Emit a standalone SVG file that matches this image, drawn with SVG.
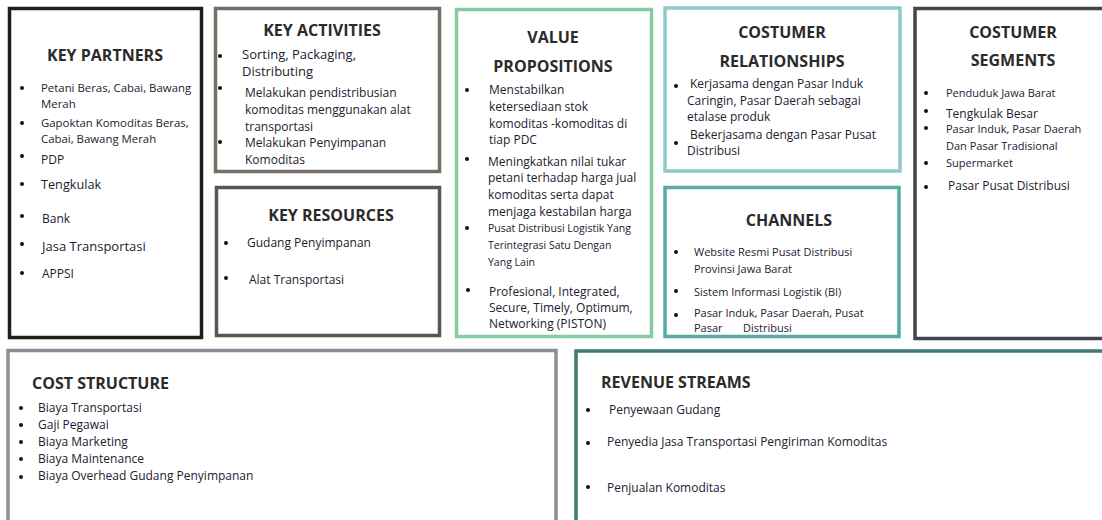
<svg xmlns="http://www.w3.org/2000/svg" width="1102" height="520" viewBox="0 0 1102 520">
<style>
.box{fill:#fff;stroke-width:3.5}
.h{font-family:"Open Sans","Liberation Sans",sans-serif;font-weight:700;font-size:16px;fill:#2b2b2b}
.t{font-family:"Open Sans","Liberation Sans",sans-serif;font-size:12px;fill:#1c2130}
.m{font-size:11px}
.k{font-size:11.4px}
.s{font-size:10.5px}
.l{font-size:13px}
.b{fill:#111}
</style>
<rect width="1102" height="520" fill="#fff"/>
<g id="key-partners">
<rect class="box" x="9.5" y="8.5" width="192" height="329" stroke="#1f1f1f"/>
<text class="h" x="105" y="61" text-anchor="middle">KEY PARTNERS</text>
<g class="b"><circle cx="22" cy="88" r="2"/><circle cx="22" cy="123" r="2"/><circle cx="22" cy="156" r="2"/><circle cx="22" cy="184" r="2"/><circle cx="22" cy="216" r="2"/><circle cx="22" cy="244" r="2"/><circle cx="22" cy="273" r="2"/></g>
<text class="t k" x="41" y="92">Petani Beras, Cabai, Bawang</text>
<text class="t k" x="41" y="108">Merah</text>
<text class="t k" x="41" y="127">Gapoktan Komoditas Beras,</text>
<text class="t k" x="41" y="143">Cabai, Bawang Merah</text>
<text class="t" x="41" y="164">PDP</text>
<text class="t" x="41" y="189" style="font-size:12.7px">Tengkulak</text>
<text class="t" x="42" y="223">Bank</text>
<text class="t l" x="42" y="251">Jasa Transportasi</text>
<text class="t" x="42" y="278">APPSI</text>
</g>
<g id="key-activities">
<rect class="box" x="215.5" y="8.5" width="224" height="163" stroke="#766d65"/>
<text class="h" x="322" y="36" text-anchor="middle">KEY ACTIVITIES</text>
<g class="b"><circle cx="220" cy="56" r="2"/><circle cx="220" cy="88" r="2"/><circle cx="220" cy="142" r="2"/></g>
<text class="t l" x="242" y="59">Sorting, Packaging,</text>
<text class="t l" x="242" y="76">Distributing</text>
<text class="t" x="245" y="97">Melakukan pendistribusian</text>
<text class="t" x="245" y="114">komoditas menggunakan alat</text>
<text class="t" x="245" y="131">transportasi</text>
<text class="t" x="245" y="147">Melakukan Penyimpanan</text>
<text class="t" x="245" y="164">Komoditas</text>
</g>
<g id="key-resources">
<rect class="box" x="216.5" y="187.5" width="223" height="148" stroke="#5c544e"/>
<text class="h" x="331" y="221" text-anchor="middle">KEY RESOURCES</text>
<g class="b"><circle cx="226" cy="243" r="2"/><circle cx="226" cy="278" r="2"/></g>
<text class="t" x="247" y="247">Gudang Penyimpanan</text>
<text class="t" x="249" y="284">Alat Transportasi</text>
</g>
<g id="value-propositions">
<rect class="box" x="456.5" y="9.5" width="195" height="327" stroke="#86cba3"/>
<text class="h" x="553" y="43" text-anchor="middle">VALUE</text>
<text class="h" x="553" y="72" text-anchor="middle">PROPOSITIONS</text>
<g class="b"><circle cx="467" cy="90" r="2"/><circle cx="467" cy="159" r="2"/><circle cx="467" cy="228" r="2"/><circle cx="468" cy="290" r="2"/></g>
<text class="t" x="489" y="94">Menstabilkan</text>
<text class="t" x="489" y="111">ketersediaan stok</text>
<text class="t" x="489" y="128">komoditas -komoditas di</text>
<text class="t" x="489" y="144">tiap PDC</text>
<text class="t" x="488" y="166">Meningkatkan nilai tukar</text>
<text class="t" x="488" y="182">petani terhadap harga jual</text>
<text class="t" x="488" y="199">komoditas serta dapat</text>
<text class="t" x="488" y="216">menjaga kestabilan harga</text>
<text class="t s" x="488" y="232">Pusat Distribusi Logistik Yang</text>
<text class="t s" x="488" y="249">Terintegrasi Satu Dengan</text>
<text class="t s" x="488" y="266">Yang Lain</text>
<text class="t" x="489" y="296">Profesional, Integrated,</text>
<text class="t" x="489" y="312">Secure, Timely, Optimum,</text>
<text class="t" x="489" y="328">Networking (PISTON)</text>
</g>
<g id="customer-relationships">
<rect class="box" x="665" y="8" width="235" height="163" stroke="#8ccbc6"/>
<text class="h" x="782" y="38" text-anchor="middle">COSTUMER</text>
<text class="h" x="782" y="67" text-anchor="middle">RELATIONSHIPS</text>
<g class="b"><circle cx="676" cy="86" r="2"/><circle cx="676" cy="143" r="2"/></g>
<text class="t" x="690" y="88">Kerjasama dengan Pasar Induk</text>
<text class="t" x="687" y="105">Caringin, Pasar Daerah sebagai</text>
<text class="t" x="687" y="121">etalase produk</text>
<text class="t" x="690" y="139">Bekerjasama dengan Pasar Pusat</text>
<text class="t" x="687" y="155">Distribusi</text>
</g>
<g id="channels">
<rect class="box" x="665" y="187.5" width="234" height="149" stroke="#57aaa5"/>
<text class="h" x="789" y="226" text-anchor="middle">CHANNELS</text>
<g class="b"><circle cx="676" cy="252" r="2"/><circle cx="676" cy="291" r="2"/><circle cx="676" cy="315" r="2"/></g>
<text class="t m" x="694" y="256">Website Resmi Pusat Distribusi</text>
<text class="t m" x="694" y="273">Provinsi Jawa Barat</text>
<text class="t m" x="694" y="296">Sistem Informasi Logistik (BI)</text>
<text class="t m" x="694" y="317">Pasar Induk, Pasar Daerah, Pusat</text>
<text class="t m" x="694" y="332">Pasar</text>
<text class="t m" x="743" y="332">Distribusi</text>
</g>
<g id="customer-segments">
<rect class="box" x="915" y="8.5" width="200" height="330" stroke="#43464e"/>
<text class="h" x="1013" y="38" text-anchor="middle">COSTUMER</text>
<text class="h" x="1013" y="66" text-anchor="middle">SEGMENTS</text>
<g class="b"><circle cx="926" cy="93" r="2"/><circle cx="926" cy="111" r="2"/><circle cx="926" cy="128" r="2"/><circle cx="926" cy="163" r="2"/><circle cx="926" cy="187" r="2"/></g>
<text class="t m" x="946" y="97">Penduduk Jawa Barat</text>
<text class="t" x="946" y="118">Tengkulak Besar</text>
<text class="t m" x="946" y="133">Pasar Induk, Pasar Daerah</text>
<text class="t m" x="946" y="150">Dan Pasar Tradisional</text>
<text class="t m" x="946" y="167">Supermarket</text>
<text class="t" x="948" y="190">Pasar Pusat Distribusi</text>
</g>
<g id="cost-structure">
<rect class="box" x="8" y="350.5" width="548" height="180" stroke="#8b8e98"/>
<text class="h" x="32" y="389">COST STRUCTURE</text>
<g class="b"><circle cx="21" cy="408" r="2"/><circle cx="21" cy="425" r="2"/><circle cx="21" cy="442" r="2"/><circle cx="21" cy="459" r="2"/><circle cx="21" cy="477" r="2"/></g>
<text class="t" x="38" y="412">Biaya Transportasi</text>
<text class="t" x="38" y="429">Gaji Pegawai</text>
<text class="t" x="38" y="446">Biaya Marketing</text>
<text class="t" x="38" y="463">Biaya Maintenance</text>
<text class="t" x="38" y="480">Biaya Overhead Gudang Penyimpanan</text>
</g>
<g id="revenue-streams">
<rect class="box" x="576" y="351" width="540" height="180" stroke="#3f7b74"/>
<text class="h" x="601" y="388">REVENUE STREAMS</text>
<g class="b"><circle cx="588" cy="410" r="2"/><circle cx="588" cy="443" r="2"/><circle cx="588" cy="487" r="2"/></g>
<text class="t" x="609" y="414">Penyewaan Gudang</text>
<text class="t" x="607" y="446">Penyedia Jasa Transportasi Pengiriman Komoditas</text>
<text class="t" x="607" y="492">Penjualan Komoditas</text>
</g>
<g id="connectors"/>
</svg>
